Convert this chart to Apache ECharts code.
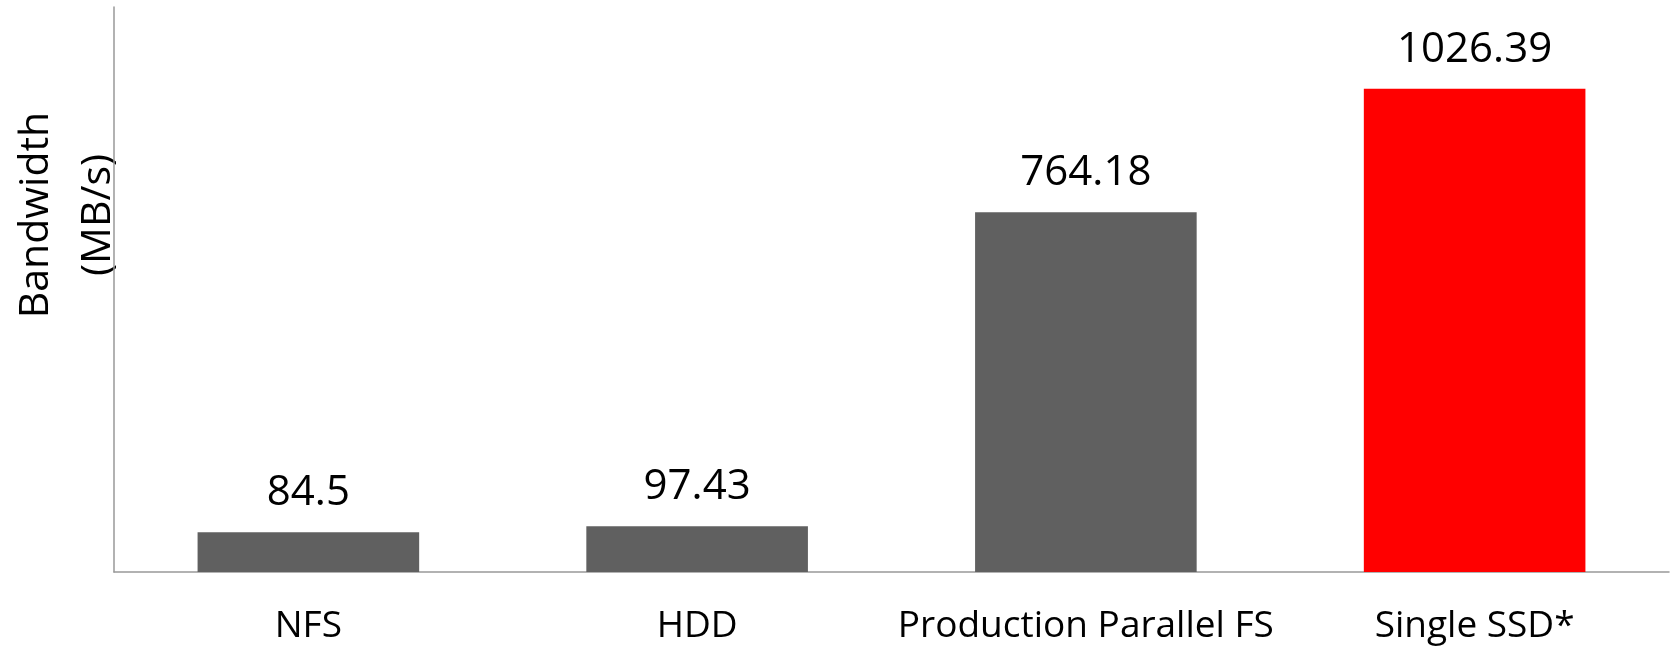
<!DOCTYPE html>
<html>
<head>
<meta charset="utf-8">
<script src="https://cdn.jsdelivr.net/npm/echarts@6/dist/echarts.min.js"></script>
<style>
  html, body { margin: 0; padding: 0; background: #ffffff; }
  #chart { width: 1673px; height: 648px; }
</style>
</head>
<body>
<div id="chart"></div>
<script>
// Storage systems compared
const categories = ['NFS', 'HDD', 'Production Parallel FS', 'Single SSD*'];
// Measured bandwidth in MB/s
const bandwidth = [84.5, 97.43, 764.18, 1026.39];
// Bar fill per system: the SSD is highlighted
const barColors = ['#606060', '#606060', '#606060', '#ff0000'];
const axisTitle = 'Bandwidth\n(MB/s)';

const FONT = '"Open Sans", "Noto Sans", sans-serif';

const chart = echarts.init(document.getElementById('chart'), null, { renderer: 'canvas' });

chart.setOption({
  animation: false,
  backgroundColor: '#ffffff',
  grid: { left: 114, right: 4, top: 7, bottom: 76, containLabel: false },
  xAxis: {
    type: 'category',
    data: categories,
    axisLine: { show: true, lineStyle: { color: '#999999', width: 1.5 } },
    axisTick: { show: false },
    axisLabel: { interval: 0, color: '#000000', fontFamily: FONT, fontSize: 37, margin: 36 },
    splitLine: { show: false }
  },
  yAxis: {
    type: 'value',
    min: 0,
    max: 1200,
    interval: 200,
    axisLine: { show: true, lineStyle: { color: '#999999', width: 1.5 } },
    axisTick: { show: false },
    axisLabel: { show: false },
    splitLine: { show: false }
  },
  graphic: [{
    type: 'text',
    x: 67,
    y: 215,
    rotation: Math.PI / 2,
    style: {
      text: axisTitle,
      fontFamily: FONT,
      fontSize: 41,
      lineHeight: 62,
      fill: '#000000',
      align: 'center',
      verticalAlign: 'middle'
    }
  }],
  series: [{
    type: 'bar',
    data: bandwidth.map((v, i) => ({ value: v, itemStyle: { color: barColors[i] } })),
    barWidth: '57%',
    label: {
      show: true,
      position: 'top',
      distance: 18,
      color: '#000000',
      fontFamily: FONT,
      fontSize: 42,
      formatter: p => String(p.value)
    }
  }]
});
</script>
</body>
</html>
